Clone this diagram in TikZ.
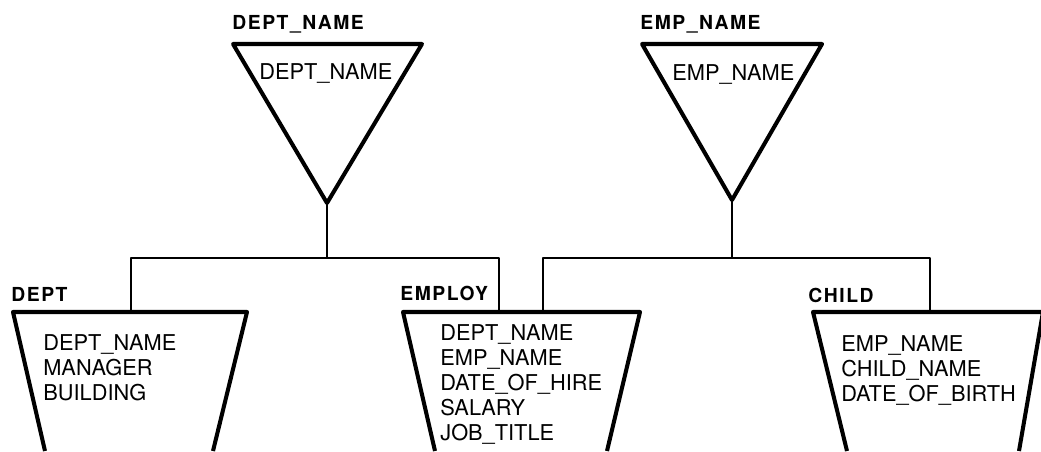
\documentclass[tikz,border=0pt]{standalone}
\usepackage{fontspec}
\setmainfont{TeX Gyre Heros}
\newfontfamily\headfont[LetterSpace=8]{TeX Gyre Heros}
\usetikzlibrary{positioning}

\begin{document}
\begin{tikzpicture}[x=0.02cm, y=-0.02cm, line join=round,
    outline/.style={line width=2.3pt},
    link/.style={line width=1.1pt},
    head/.style={anchor=north west, inner sep=0pt, font=\headfont\bfseries\fontsize{11}{13}\selectfont},
    fields/.style={anchor=north west, inner sep=0pt, align=left, font=\fontsize{12.4}{14.2}\selectfont}]
    \useasboundingbox (0,0) rectangle (1041,451);
    % index triangles
    \draw [outline] (233,44) -- (422,44) -- (327,203) coordinate(dtip) -- cycle;
    \draw [outline] (642,44) -- (822,44) -- (732,200) coordinate(etip) -- cycle;
    % segments
    \draw [outline] (45,451) -- (13,312) -- (247,312) -- (213,451);
    \draw [outline] (435,451) -- (403,312) -- (640,312) -- (607,451);
    \draw [outline] (847,451) -- (813,312) -- (1043,312) -- (1019,451);
    \path
        (131,312) coordinate(depttop)
        (499,312) coordinate(emptopa)
        (543,312) coordinate(emptopb)
        (930,312) coordinate(childtop)
        (327,258) coordinate(dbar)
        (732,258) coordinate(ebar);
    \draw [link] (dtip) -- (dbar);
    \draw [link] (depttop) |- (dbar) -| (emptopa);
    \draw [link] (etip) -- (ebar);
    \draw [link] (emptopb) |- (ebar) -| (childtop);
    % labels
    \path
        (232,15) node(dnhead)[head]{DEPT\_NAME}
        (640,15) node(enhead)[head]{EMP\_NAME}
        (259,63) node(dnkey)[fields]{DEPT\_NAME}
        (672,64) node(enkey)[fields]{EMP\_NAME}
        (11,287) node(depthead)[head]{DEPT}
        (400,286) node(emphead)[head]{EMPLOY}
        (808,288) node(childhead)[head]{CHILD}
        (43,334) node(deptf)[fields]{DEPT\_NAME\\MANAGER\\BUILDING}
        (440,324) node(empf)[fields]{DEPT\_NAME\\EMP\_NAME\\DATE\_OF\_HIRE\\SALARY\\JOB\_TITLE}
        (841,335) node(childf)[fields]{EMP\_NAME\\CHILD\_NAME\\DATE\_OF\_BIRTH};
\end{tikzpicture}
\end{document}
